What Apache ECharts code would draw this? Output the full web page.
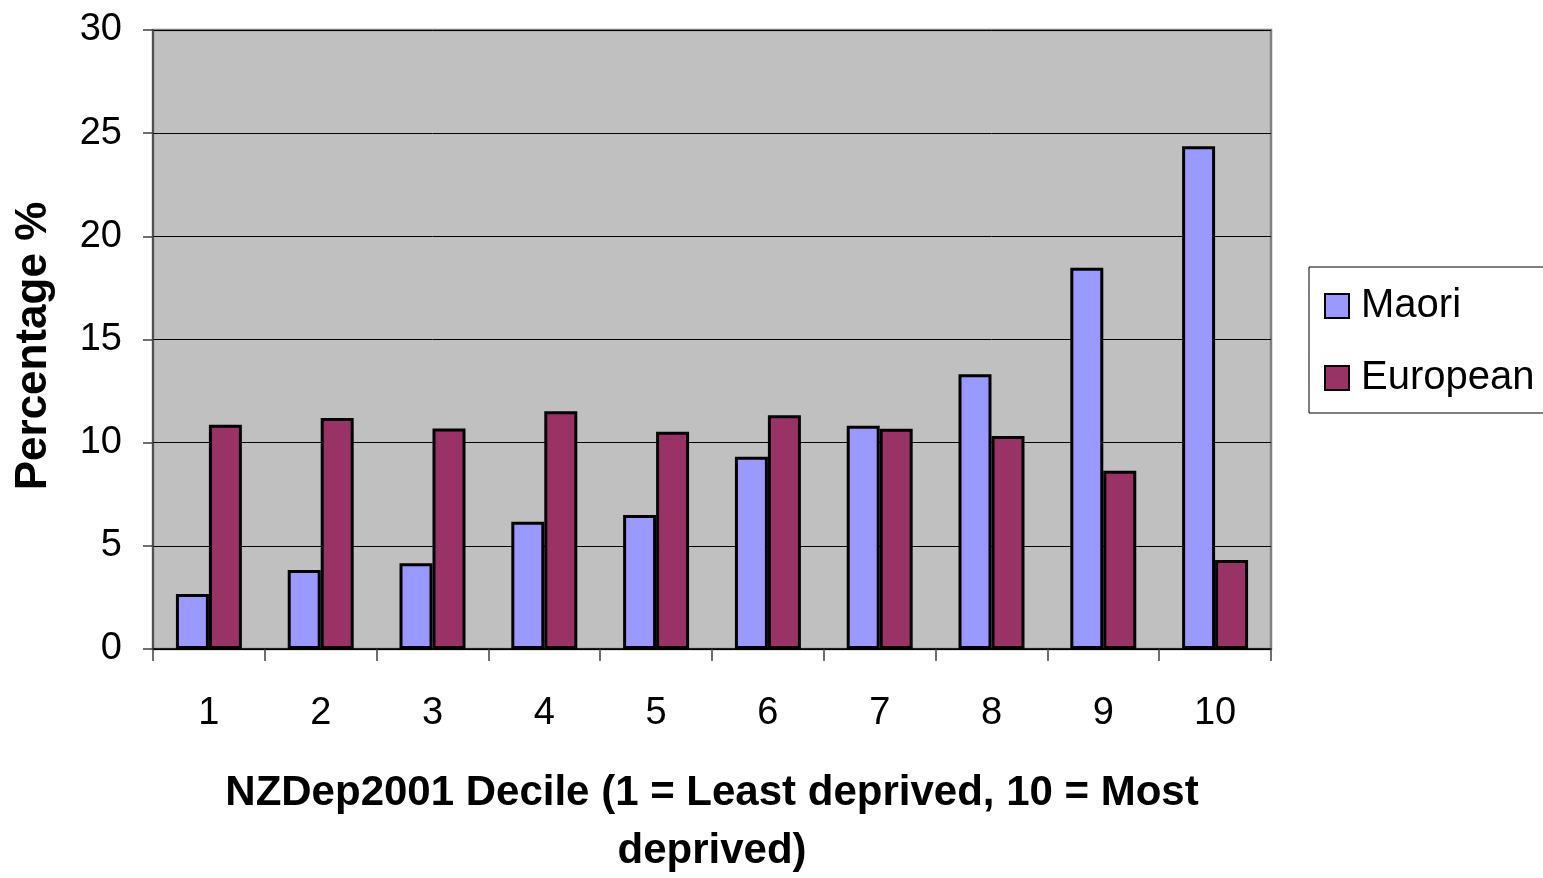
<!DOCTYPE html>
<html>
<head>
<meta charset="utf-8">
<script src="https://cdn.jsdelivr.net/npm/echarts@6/dist/echarts.min.js"></script>
<style>
html,body{margin:0;padding:0;background:#fff;overflow:hidden;}
#chart{width:1543px;height:878px;}
</style>
</head>
<body>
<div id="chart"></div>
<script>
const categories = ['1','2','3','4','5','6','7','8','9','10'];
const maori = [2.67, 3.83, 4.16, 6.17, 6.49, 9.32, 10.82, 13.32, 18.48, 24.36];
const european = [10.87, 11.19, 10.69, 11.52, 10.53, 11.33, 10.67, 10.32, 8.64, 4.31];
const seriesNames = ['Maori', 'European'];
const yTicks = { min: 0, max: 30, interval: 5 };
const xTitle = 'NZDep2001 Decile (1 = Least deprived, 10 = Most\ndeprived)';
const yTitle = 'Percentage %';

const FONT = '"Liberation Sans", Arial, sans-serif';
const chart = echarts.init(document.getElementById('chart'));
chart.setOption({
  animation: false,
  backgroundColor: '#ffffff',
  textStyle: { fontFamily: FONT, color: '#000' },
  grid: {
    left: 153, top: 30, width: 1118, height: 619,
    show: true, backgroundColor: '#C0C0C0', borderColor: '#808080', borderWidth: 2.5,
    containLabel: false,
    outerBoundsMode: 'none'
  },
  legend: {
    orient: 'vertical',
    left: 1309, top: 267,
    padding: [19, 40, 15, 15],
    backgroundColor: '#ffffff',
    borderColor: '#000000', borderWidth: 1,
    itemWidth: 24, itemHeight: 24, itemGap: 32,
    icon: 'rect',
    textStyle: { fontFamily: FONT, fontSize: 40, lineHeight: 40, color: '#000', padding: [0,0,0,7] },
    data: seriesNames
  },
  xAxis: {
    type: 'category',
    data: categories,
    boundaryGap: true,
    name: xTitle,
    nameLocation: 'middle',
    nameGap: 115,
    nameTextStyle: { fontFamily: FONT, fontSize: 42, fontWeight: 'bold', lineHeight: 58, color: '#000', verticalAlign: 'top' },
    axisLine: { show: true, lineStyle: { color: '#000', width: 1.5 } },
    axisTick: { show: true, length: 12, alignWithLabel: false, lineStyle: { color: '#404040', width: 1.5 } },
    axisLabel: { fontFamily: FONT, fontSize: 38, color: '#000', margin: 46 },
    splitLine: { show: false }
  },
  yAxis: {
    type: 'value',
    min: yTicks.min, max: yTicks.max, interval: yTicks.interval,
    name: yTitle,
    nameLocation: 'middle',
    nameGap: 97,
    nameTextStyle: { fontFamily: FONT, fontSize: 44, fontWeight: 'bold', color: '#000', padding: [0, 13, 0, 0] },
    axisLine: { show: true, lineStyle: { color: '#404040', width: 1.5 } },
    axisTick: { show: true, length: 10, lineStyle: { color: '#404040', width: 1.5 } },
    axisLabel: { fontFamily: FONT, fontSize: 38, color: '#000', margin: 31 },
    splitLine: { show: true, lineStyle: { color: '#000', width: 1 } }
  },
  series: [
    {
      name: seriesNames[0], type: 'bar', data: maori,
      barGap: '0%', barCategoryGap: '41%',
      itemStyle: { color: '#9999FF', borderColor: '#000', borderWidth: 3 }
    },
    {
      name: seriesNames[1], type: 'bar', data: european,
      itemStyle: { color: '#993366', borderColor: '#000', borderWidth: 3 }
    }
  ]
});
</script>
</body>
</html>
